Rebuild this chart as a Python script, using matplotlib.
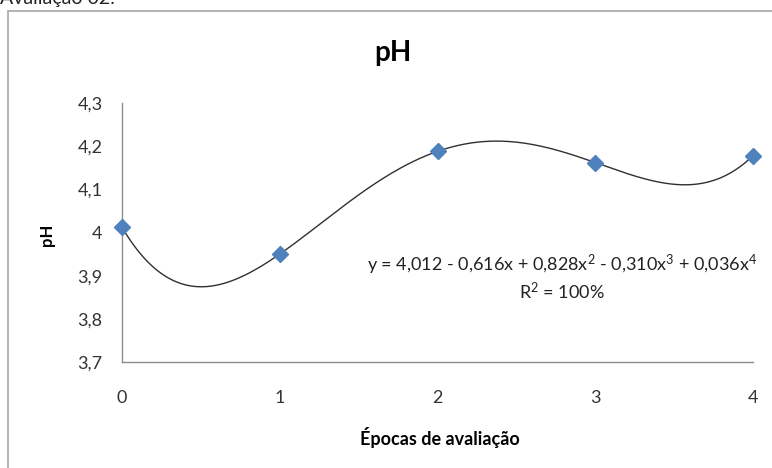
import numpy as np
import matplotlib.pyplot as plt
from matplotlib.patches import Rectangle

# data
epocas = [0, 1, 2, 3, 4]
ph = [4.012, 3.950, 4.188, 4.162, 4.178]
y_ticks = [3.7, 3.8, 3.9, 4.0, 4.1, 4.2, 4.3]
y_tick_labels = ['3,7', '3,8', '3,9', '4', '4,1', '4,2', '4,3']
equation = ('y = 4,012 - 0,616x + 0,828x$^{2}$ - 0,310x$^{3}$ '
            '+ 0,036x$^{4}$')
r2_text = 'R$^{2}$ = 100%'

plt.rcParams['font.family'] = ['Lato', 'DejaVu Sans']
plt.rcParams['mathtext.fontset'] = 'custom'
plt.rcParams['mathtext.rm'] = 'Lato'
plt.rcParams['mathtext.it'] = 'Lato'
plt.rcParams['mathtext.default'] = 'regular'

W, H = 772, 468
fig = plt.figure(figsize=(W / 100, H / 100), dpi=100)

# chart frame (partly outside the picture) and cut-off heading above it
fig.patches.append(Rectangle((8 / W, -0.1), 1.2, 1 - 11 / H + 0.1,
                             transform=fig.transFigure, fill=False,
                             edgecolor='#a6a6a6', linewidth=1.2))
fig.text(0 / W, 1 - 4 / H, 'Avaliação 02:', fontsize=14, color='#222222',
         ha='left', va='baseline')

ax = fig.add_axes([122 / W, 1 - 362 / H, (753 - 122) / W, (362 - 103) / H])

# 4th order polynomial trendline through the points
coef = np.polyfit(epocas, ph, 4)
xs = np.linspace(min(epocas), max(epocas), 300)
ax.plot(xs, np.polyval(coef, xs), color='#303030', linewidth=1.0, zorder=2)
ax.plot(epocas, ph, linestyle='none', marker='D', markersize=8,
        color='#4f81bd', markeredgecolor='#4f81bd', clip_on=False, zorder=3)

ax.set_xlim(0, 4)
ax.set_ylim(3.7, 4.3)
ax.set_xticks(epocas)
ax.set_yticks(y_ticks)
ax.set_yticklabels(y_tick_labels)
ax.tick_params(length=0, labelsize=13, labelcolor='#333333')
ax.tick_params(axis='y', pad=14)
ax.tick_params(axis='x', pad=20)

for side in ['top', 'right']:
    ax.spines[side].set_visible(False)
for side in ['left', 'bottom']:
    ax.spines[side].set_color('#8c8c8c')
    ax.spines[side].set_linewidth(1.0)

ax.text(562 / W, 1 - 265 / H, equation, transform=fig.transFigure,
        ha='center', va='center', fontsize=13, color='#222222')
ax.text(562 / W, 1 - 292 / H, r2_text, transform=fig.transFigure,
        ha='center', va='center', fontsize=13, color='#222222')

fig.text(393 / W, 1 - 53 / H, 'pH', fontsize=20, fontweight='bold',
         ha='center', va='center')
fig.text(47 / W, 1 - 235 / H, 'pH', fontsize=12, fontweight='bold',
         rotation=90, ha='center', va='center')
fig.text(440 / W, 1 - 438 / H, 'Épocas de avaliação', fontsize=13,
         fontweight='bold', ha='center', va='center')

fig.savefig('out.png', dpi=100)
